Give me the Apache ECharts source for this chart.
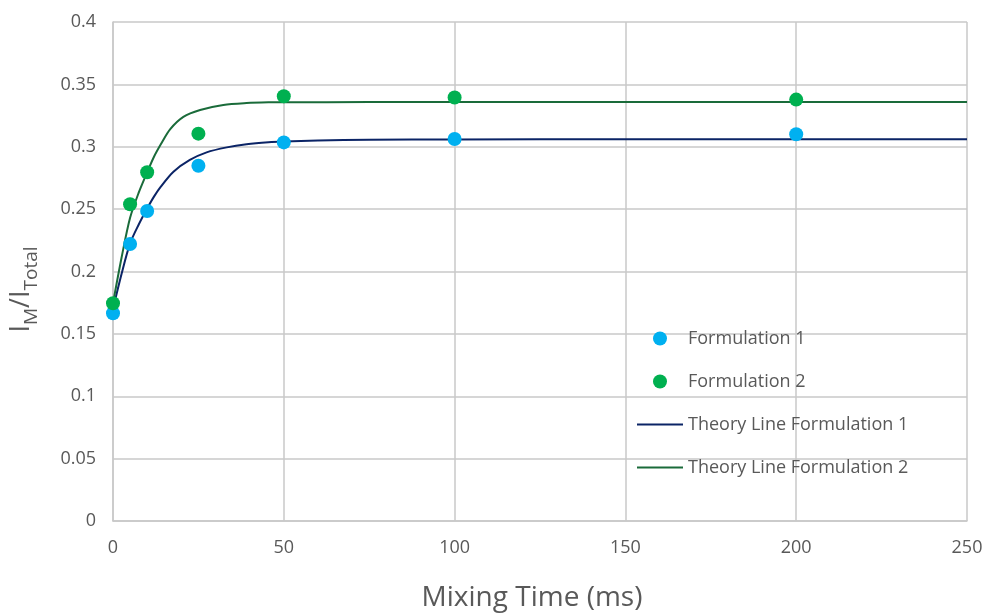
<!DOCTYPE html>
<html>
<head>
<meta charset="utf-8">
<script src="https://cdn.jsdelivr.net/npm/echarts@6/dist/echarts.min.js"></script>
<style>
  html, body { margin: 0; padding: 0; background: #ffffff; }
  #chart { width: 987px; height: 614px; }
</style>
</head>
<body>
<div id="chart"></div>
<script>
// Measured mixing times (ms)
const mixingTimes = [0, 5, 10, 25, 50, 100, 200];
// Measured I_M / I_Total ratios
const formulation1 = [0.1665, 0.222, 0.2485, 0.2848, 0.3035, 0.3062, 0.3100];
const formulation2 = [0.1745, 0.2539, 0.2795, 0.3105, 0.3405, 0.3395, 0.3378];

// Theory curves, sampled along the mixing-time axis
const theoryTimes1 = [0, 2.5, 5, 7.5, 10, 12, 14, 17.7, 22.5, 27.4, 33.3, 39.1, 45.5, 50, 60, 75, 100, 150, 200, 250];
const theory1 = [0.170, 0.198, 0.2225, 0.2375, 0.2505, 0.2600, 0.2680, 0.2800, 0.2894, 0.2955, 0.2995, 0.3020, 0.3036, 0.3042, 0.3050, 0.3056, 0.3058, 0.3060, 0.3060, 0.3060];
const theoryTimes2 = [0, 2.5, 5, 7.5, 10, 12, 14, 16.7, 20.6, 25.5, 32.3, 39.1, 45.5, 50, 75, 100, 150, 200, 250];
const theory2 = [0.1745, 0.211, 0.243, 0.263, 0.2795, 0.2920, 0.3020, 0.3140, 0.3240, 0.3295, 0.3335, 0.3350, 0.3356, 0.3357, 0.3358, 0.3358, 0.3358, 0.3358, 0.3358];

const xTicks = { min: 0, max: 250, interval: 50 };
const yTicks = { min: 0, max: 0.4, interval: 0.05 };

const pair = (xs, ys) => xs.map((x, i) => [x, ys[i]]);

const textColor = '#595959';
const gridColor = '#c8c8c8';
const font = '"Open Sans", Lato, sans-serif';
const lineIcon = 'path://M0,0H46V2H0Z';

const chart = echarts.init(document.getElementById('chart'), null, { renderer: 'canvas' });
chart.setOption({
  animation: false,
  backgroundColor: '#ffffff',
  grid: { left: 113, right: 20, top: 22, bottom: 93, outerBoundsMode: 'none', containLabel: false },
  xAxis: {
    type: 'value',
    min: xTicks.min, max: xTicks.max, interval: xTicks.interval,
    name: 'Mixing Time (ms)',
    nameLocation: 'middle',
    nameGap: 63,
    nameTextStyle: { fontSize: 28, color: textColor, fontFamily: font, padding: [0, 16, 0, 0] },
    axisLine: { show: true, lineStyle: { color: gridColor, width: 1.5 } },
    axisTick: { show: false },
    axisLabel: { fontSize: 18, color: textColor, fontFamily: font, margin: 18 },
    splitLine: { show: true, lineStyle: { color: gridColor, width: 1.5 } }
  },
  yAxis: {
    type: 'value',
    min: yTicks.min, max: yTicks.max, interval: yTicks.interval,
    name: '{i|I}{s|M}{i|/I}{s|Total}',
    nameLocation: 'middle',
    nameGap: 72,
    nameTextStyle: {
      color: textColor, fontFamily: font,
      padding: [0, 36, 0, 0],
      rich: {
        i: { fontSize: 27, color: textColor, fontFamily: font, lineHeight: 32, verticalAlign: 'bottom', padding: [0, 0, 6, 0] },
        s: { fontSize: 19, color: textColor, fontFamily: font, lineHeight: 32, verticalAlign: 'bottom' }
      }
    },
    axisLine: { show: true, lineStyle: { color: gridColor, width: 1.5 } },
    axisTick: { show: false },
    axisLabel: {
      fontSize: 18, color: textColor, fontFamily: font, margin: 17,
      formatter: v => String(parseFloat(v.toFixed(2)))
    },
    splitLine: { show: true, lineStyle: { color: gridColor, width: 1.5 } }
  },
  legend: {
    orient: 'vertical',
    left: 637,
    top: 326,
    padding: 0,
    itemWidth: 46,
    itemHeight: 14,
    itemGap: 18,
    textStyle: { fontSize: 18, color: textColor, fontFamily: font, lineHeight: 25 },
    data: [
      { name: 'Formulation 1', icon: 'circle' },
      { name: 'Formulation 2', icon: 'circle' },
      { name: 'Theory Line Formulation 1', icon: lineIcon },
      { name: 'Theory Line Formulation 2', icon: lineIcon }
    ]
  },
  series: [
    {
      name: 'Theory Line Formulation 1',
      type: 'line',
      data: pair(theoryTimes1, theory1),
      smooth: 0.3,
      showSymbol: false,
      symbol: 'none',
      lineStyle: { color: '#0b2466', width: 2 },
      itemStyle: { color: '#0b2466' },
      z: 2
    },
    {
      name: 'Theory Line Formulation 2',
      type: 'line',
      data: pair(theoryTimes2, theory2),
      smooth: 0.3,
      showSymbol: false,
      symbol: 'none',
      lineStyle: { color: '#1a6b3a', width: 2 },
      itemStyle: { color: '#1a6b3a' },
      z: 2
    },
    {
      name: 'Formulation 1',
      type: 'scatter',
      data: pair(mixingTimes, formulation1),
      symbol: 'circle',
      symbolSize: 14,
      itemStyle: { color: '#00b0f0', opacity: 1 },
      z: 3
    },
    {
      name: 'Formulation 2',
      type: 'scatter',
      data: pair(mixingTimes, formulation2),
      symbol: 'circle',
      symbolSize: 14,
      itemStyle: { color: '#00b050', opacity: 1 },
      z: 3
    }
  ]
});
</script>
</body>
</html>
